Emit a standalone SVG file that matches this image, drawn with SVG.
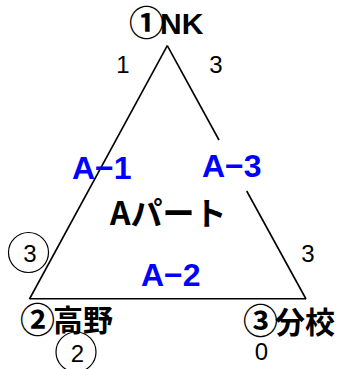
<svg xmlns="http://www.w3.org/2000/svg" width="337" height="369" viewBox="0 0 337 369">
<style>
.edge{stroke:#000;stroke-width:1.6;fill:none;stroke-linecap:butt}
.jp{font-family:"Noto Sans CJK JP","Liberation Sans",sans-serif;font-weight:bold;fill:#000}
.circ{font-size:35px}
.area{font-family:"Liberation Sans","Noto Sans CJK JP",sans-serif;font-weight:bold;font-size:32px;fill:#0000ff}
.score{font-family:"Liberation Sans","Noto Sans CJK JP",sans-serif;font-size:24px;fill:#000;text-anchor:middle}
.ring{fill:none;stroke:#000;stroke-width:1.2}
</style>
<rect width="337" height="369" fill="#fff"/>
<g id="connectors">
<line class="edge" x1="167.3" y1="45.7" x2="29.5" y2="299"/>
<line class="edge" x1="167.3" y1="45.7" x2="219" y2="140"/>
<line class="edge" x1="246.7" y1="191" x2="306" y2="299"/>
<line class="edge" x1="29.5" y1="298.8" x2="306" y2="298.8"/>
</g>
<g id="node-nk">
<text class="jp" x="129" y="34" font-size="30"><tspan class="circ" dy="2">①</tspan><tspan dx="-4" dy="-2" font-family="Liberation Sans">NK</tspan></text>
</g>
<g id="node-takano">
<text class="jp" x="20" y="331" font-size="30"><tspan class="circ" dy="2">②</tspan><tspan dx="-2" dy="-2">高野</tspan></text>
</g>
<g id="node-bunko">
<text class="jp" x="243" y="333" font-size="30"><tspan class="circ" dy="1">③</tspan><tspan dx="-3" dy="-1">分校</tspan></text>
</g>
<g id="part">
<text class="jp" x="110" y="225" font-size="32">Aパート</text>
</g>
<g id="areas">
<text class="area" x="72" y="179">A−1</text>
<text class="area" x="202" y="177">A−3</text>
<text class="area" x="141" y="286">A−2</text>
</g>
<g id="scores">
<text class="score" x="123" y="73">1</text>
<text class="score" x="216" y="73">3</text>
<text class="score" x="308" y="262">3</text>
<text class="score" x="261.5" y="360" font-size="22">0</text>
<circle class="ring" cx="28.5" cy="252.5" r="20"/>
<text class="score" x="30" y="262">3</text>
<circle class="ring" cx="76" cy="352" r="20"/>
<text class="score" x="77.5" y="362">2</text>
</g>
</svg>
